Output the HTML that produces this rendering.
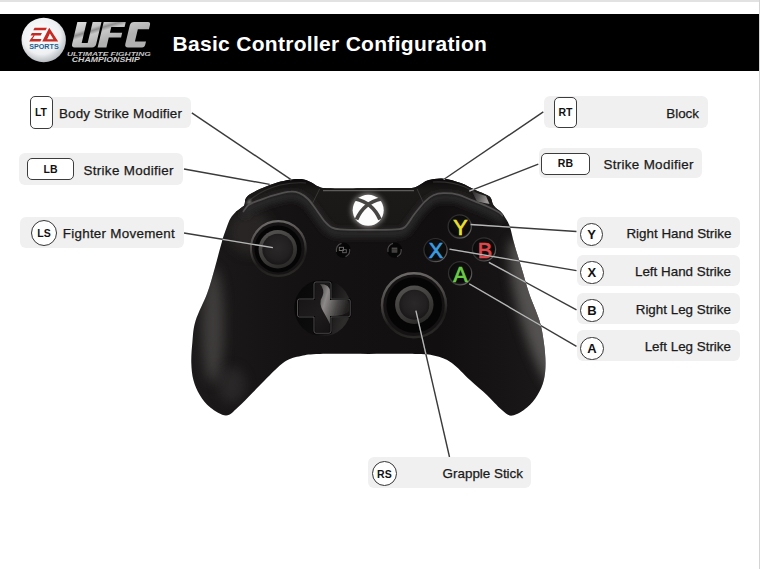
<!DOCTYPE html>
<html><head><meta charset="utf-8"><style>
*{margin:0;padding:0;box-sizing:border-box}
html,body{width:760px;height:569px;overflow:hidden;background:#fff;font-family:"Liberation Sans",sans-serif}
#topline{position:absolute;left:0;top:0;width:760px;height:2px;background:#e2e2e2}
#rightline{position:absolute;left:759px;top:0;width:1px;height:569px;background:#d4d4d4}
#header{position:absolute;left:0;top:14px;width:759px;height:57px;background:#000}
#title{position:absolute;left:172.5px;top:30.5px;letter-spacing:0.3px;color:#fff;font-weight:bold;font-size:21px;line-height:26px;white-space:nowrap}
.box{position:absolute;background:#f0f0f0;border-radius:6px;height:31px}
.lbl{position:absolute;font-size:13.4px;line-height:16px;color:#1a1a1a;white-space:nowrap;-webkit-text-stroke:0.25px #1a1a1a}
.btn{position:absolute;background:#fff;border:1.8px solid #3c3c3c;border-radius:5px;padding-bottom:1px;font-weight:bold;font-size:10.5px;color:#111;display:flex;align-items:center;justify-content:center}
.circ{position:absolute;background:#fff;border:1.7px solid #353535;border-radius:50%;font-weight:bold;font-size:11px;color:#111;display:flex;align-items:center;justify-content:center}
svg{position:absolute;left:0;top:0}
</style></head><body>
<div id="topline"></div>
<div id="header"></div>
<div id="rightline"></div>
<svg width="760" height="569" viewBox="0 0 760 569">
<defs>
 <radialGradient id="eaball" cx="45%" cy="40%" r="60%"><stop offset="0" stop-color="#ffffff"/><stop offset="0.7" stop-color="#eef0f2"/><stop offset="1" stop-color="#b8bcc0"/></radialGradient>
 <linearGradient id="silver" gradientUnits="userSpaceOnUse" x1="70" y1="20" x2="80" y2="50"><stop offset="0" stop-color="#e6e6e6"/><stop offset="0.4" stop-color="#c4c4c4"/><stop offset="0.5" stop-color="#8e8e8e"/><stop offset="0.62" stop-color="#c8c8c8"/><stop offset="1" stop-color="#b0b0b0"/></linearGradient>
 <linearGradient id="bodyg" x1="0" y1="0" x2="1" y2="0"><stop offset="0" stop-color="#1c1a1a"/><stop offset="0.3" stop-color="#141212"/><stop offset="0.7" stop-color="#110f0f"/><stop offset="1" stop-color="#1a1818"/></linearGradient>
 <radialGradient id="glow" cx="50%" cy="50%" r="50%"><stop offset="0.75" stop-color="#ffffff"/><stop offset="0.9" stop-color="#e8e8e8"/><stop offset="1" stop-color="#666" stop-opacity="0"/></radialGradient>
 <filter id="blur6" x="-50%" y="-50%" width="200%" height="200%"><feGaussianBlur stdDeviation="6"/></filter>
 <filter id="blur2" x="-50%" y="-50%" width="200%" height="200%"><feGaussianBlur stdDeviation="2.5"/></filter>
 <linearGradient id="ringg" x1="0.3" y1="0" x2="0.5" y2="1"><stop offset="0" stop-color="#6e6a6a"/><stop offset="0.4" stop-color="#4a4646"/><stop offset="0.75" stop-color="#1e1b1b"/><stop offset="1" stop-color="#2a2727"/></linearGradient>
 <linearGradient id="rimg" x1="0.2" y1="0" x2="0.7" y2="1"><stop offset="0" stop-color="#555252"/><stop offset="0.6" stop-color="#3c3939"/><stop offset="1" stop-color="#2a2727"/></linearGradient>
 <radialGradient id="capg" cx="50%" cy="45%" r="55%"><stop offset="0" stop-color="#2a2828"/><stop offset="0.7" stop-color="#222020"/><stop offset="1" stop-color="#181616"/></radialGradient>
 <filter id="blur3" x="-20%" y="-50%" width="140%" height="200%"><feGaussianBlur stdDeviation="3"/></filter>
 <filter id="blur1" x="-50%" y="-50%" width="200%" height="200%"><feGaussianBlur stdDeviation="1"/></filter>
 <linearGradient id="dpadg" x1="0" y1="0" x2="1" y2="1"><stop offset="0" stop-color="#141212"/><stop offset="0.5" stop-color="#1e1c1c"/><stop offset="1" stop-color="#0e0c0c"/></linearGradient>
 <radialGradient id="btng" cx="50%" cy="40%" r="60%"><stop offset="0" stop-color="#141212"/><stop offset="0.8" stop-color="#0a0909"/><stop offset="1" stop-color="#2a2828"/></radialGradient>
 <linearGradient id="btnrim" x1="0" y1="0" x2="1" y2="1"><stop offset="0" stop-color="#2a2828"/><stop offset="0.6" stop-color="#3a3838"/><stop offset="1" stop-color="#7a7777"/></linearGradient>
 <filter id="blur5" x="-50%" y="-50%" width="200%" height="200%"><feGaussianBlur stdDeviation="5"/></filter>
 <linearGradient id="rgripfade" gradientUnits="userSpaceOnUse" x1="0" y1="215" x2="0" y2="410"><stop offset="0" stop-color="#fff" stop-opacity="0"/><stop offset="0.2" stop-color="#fff" stop-opacity="1"/><stop offset="0.7" stop-color="#fff" stop-opacity="1"/><stop offset="1" stop-color="#fff" stop-opacity="0"/></linearGradient>
 <mask id="rgripmask" maskUnits="userSpaceOnUse" x="0" y="0" width="760" height="569"><path d="M500,215 L570,215 L570,410 L535,410 L515,330 Z" fill="url(#rgripfade)"/></mask>
 <linearGradient id="topband" gradientUnits="userSpaceOnUse" x1="0" y1="178" x2="0" y2="230"><stop offset="0" stop-color="#0a0808"/><stop offset="0.25" stop-color="#1c1919"/><stop offset="1" stop-color="#1a1717"/></linearGradient>
 <linearGradient id="rbhl" x1="0" y1="0" x2="1" y2="0.3"><stop offset="0" stop-color="#2a2828"/><stop offset="0.5" stop-color="#5a5757"/><stop offset="1" stop-color="#9a9696"/></linearGradient>
 <filter id="blur05" x="-50%" y="-50%" width="200%" height="200%"><feGaussianBlur stdDeviation="0.6"/></filter>
 <linearGradient id="dpadbase" x1="0" y1="0" x2="1" y2="0.3"><stop offset="0" stop-color="#080707"/><stop offset="0.6" stop-color="#0e0d0d"/><stop offset="1" stop-color="#2e2b2b"/></linearGradient>
 <linearGradient id="swoosh" x1="0" y1="0" x2="1" y2="0.4"><stop offset="0" stop-color="#4a4747"/><stop offset="0.3" stop-color="#9a9696"/><stop offset="0.7" stop-color="#4e4b4b"/><stop offset="1" stop-color="#262323"/></linearGradient>
</defs>
<!-- EA SPORTS ball -->
<circle cx="43.7" cy="40" r="22.2" fill="url(#eaball)"/>
<g fill="#c62a22">
 <polygon points="34.6,27.7 46.9,27.7 45.6,30.2 33.3,30.2"/>
 <polygon points="31.9,33.0 41.9,33.0 40.7,35.6 34.6,35.6 32.5,38.9 41.5,38.9 40.3,41.5 29.2,41.5 30.6,38.9 30.7,38.9 33.5,35.6 30.6,35.6"/>
 <path d="M49.2,27.7 L58.2,41.5 L42.2,41.5 Z M49.9,33.6 L47.2,39.2 L53.4,39.2 Z" fill-rule="evenodd"/>
</g>
<text x="29.2" y="48.8" font-family="Liberation Sans" font-weight="bold" font-size="7.4" fill="#235f90" textLength="29.5" lengthAdjust="spacingAndGlyphs">SPORTS</text>
<!-- UFC -->
<g transform="translate(0,47.4) skewX(-13.5) translate(0,-47.4)" fill="url(#silver)">
 <path d="M71.3,22.1 H80.6 V43 H86.6 V22.1 H95.4 V44 Q95.4,47.4 92,47.4 H74.7 Q71.3,47.4 71.3,44 Z"/>
 <path d="M97.6,22.1 H119.7 V27 H106.4 V32.8 H118.7 V37.5 H106.4 V47.4 H97.6 Z"/>
 <path d="M128,22.1 H142 Q144.6,22.1 144.6,25 V29.3 H133.5 V41.5 H144.6 V44.5 Q144.6,47.4 142,47.4 H128 Q124.5,47.4 124.5,44 V25.5 Q124.5,22.1 128,22.1 Z"/>
</g>
<text x="67" y="56.4" font-family="Liberation Sans" font-weight="bold" font-style="italic" font-size="5.4" fill="#c4c4c4" textLength="83.8" lengthAdjust="spacingAndGlyphs">ULTIMATE FIGHTING</text>
<text x="71.8" y="62.4" font-family="Liberation Sans" font-weight="bold" font-style="italic" font-size="7.2" fill="#d0d0d0" textLength="68" lengthAdjust="spacingAndGlyphs">CHAMPIONSHIP</text>

<!-- controller -->
<path d="M368.5,188.3 C378.5,188.2 392.3,188.2 400.0,188.1 C407.7,187.9 410.8,188.2 414.5,187.4 C418.2,186.6 419.6,184.7 422.0,183.5 C424.4,182.3 425.4,180.8 429.0,180.0 C432.6,179.2 438.1,178.2 443.4,178.7 C448.7,179.2 455.5,181.1 460.8,183.0 C466.1,184.9 470.8,187.9 475.2,189.9 C479.6,191.9 484.9,193.8 487.5,195.2 C490.1,196.6 490.1,197.0 491.0,198.5 C491.9,200.0 492.1,202.5 492.8,204.0 C493.5,205.5 494.1,206.2 495.4,207.5 C496.7,208.8 498.9,209.9 500.7,211.8 C502.5,213.7 504.4,216.4 506.0,218.9 C507.6,221.4 508.6,222.8 510.0,227.0 C511.4,231.2 512.3,237.1 514.3,244.0 C516.2,250.9 519.2,260.3 521.7,268.5 C524.2,276.7 526.0,284.2 529.0,293.0 C532.0,301.8 537.1,312.8 539.6,321.0 C542.1,329.2 542.8,335.1 543.8,342.2 C544.8,349.2 545.5,357.0 545.5,363.3 C545.5,369.6 545.1,374.9 543.8,380.2 C542.5,385.5 540.3,390.4 537.5,395.0 C534.7,399.6 531.2,404.2 527.0,407.6 C522.8,411.0 516.4,415.2 512.2,415.6 C508.0,416.0 505.8,413.1 501.6,409.7 C497.4,406.3 492.2,399.9 486.9,395.0 C481.6,390.1 475.9,385.4 470.0,380.0 C464.1,374.6 457.4,366.8 451.5,362.7 C445.6,358.6 440.7,357.1 434.6,355.7 C428.5,354.2 426.0,354.3 415.0,354.0 C404.0,353.7 384.3,354.0 368.5,354.0 C352.7,354.0 331.2,353.7 320.0,354.0 C308.8,354.3 306.8,354.7 301.0,356.0 C295.2,357.3 291.0,357.6 285.0,361.6 C279.0,365.6 270.4,374.8 265.0,380.0 C259.6,385.2 257.1,388.2 252.5,392.8 C247.9,397.4 242.1,403.8 237.7,407.6 C233.3,411.4 230.6,415.6 226.0,415.6 C221.4,415.6 214.7,411.0 210.3,407.6 C205.9,404.2 202.6,399.6 199.8,395.0 C197.0,390.4 194.8,385.3 193.4,380.0 C192.0,374.7 191.5,369.3 191.3,363.0 C191.1,356.7 191.7,349.0 192.4,342.0 C193.1,335.0 193.0,329.2 195.5,321.0 C198.0,312.8 204.1,301.8 207.3,293.0 C210.5,284.2 212.2,277.1 214.7,268.5 C217.1,259.9 219.9,248.4 222.0,241.4 C224.1,234.4 225.7,230.3 227.0,226.6 C228.3,222.9 228.8,221.4 230.0,219.2 C231.2,217.0 232.4,215.3 234.3,213.4 C236.2,211.5 239.9,209.1 241.6,207.6 C243.3,206.1 243.8,206.3 244.5,204.7 C245.2,203.1 244.7,200.1 245.9,198.2 C247.1,196.3 248.3,195.1 251.7,193.2 C255.1,191.3 261.4,188.5 266.2,186.6 C271.0,184.7 276.4,182.8 280.7,181.6 C285.0,180.4 288.3,179.8 292.2,179.4 C296.1,179.0 300.7,178.9 303.8,179.4 C306.9,179.9 308.6,181.1 311.0,182.3 C313.4,183.5 316.1,185.6 318.3,186.6 C320.5,187.6 320.4,187.8 324.0,188.1 C327.6,188.4 332.6,188.5 340.0,188.5 C347.4,188.5 358.5,188.4 368.5,188.3Z" fill="url(#bodyg)"/>
<clipPath id="bodyclip"><path d="M368.5,188.3 C378.5,188.2 392.3,188.2 400.0,188.1 C407.7,187.9 410.8,188.2 414.5,187.4 C418.2,186.6 419.6,184.7 422.0,183.5 C424.4,182.3 425.4,180.8 429.0,180.0 C432.6,179.2 438.1,178.2 443.4,178.7 C448.7,179.2 455.5,181.1 460.8,183.0 C466.1,184.9 470.8,187.9 475.2,189.9 C479.6,191.9 484.9,193.8 487.5,195.2 C490.1,196.6 490.1,197.0 491.0,198.5 C491.9,200.0 492.1,202.5 492.8,204.0 C493.5,205.5 494.1,206.2 495.4,207.5 C496.7,208.8 498.9,209.9 500.7,211.8 C502.5,213.7 504.4,216.4 506.0,218.9 C507.6,221.4 508.6,222.8 510.0,227.0 C511.4,231.2 512.3,237.1 514.3,244.0 C516.2,250.9 519.2,260.3 521.7,268.5 C524.2,276.7 526.0,284.2 529.0,293.0 C532.0,301.8 537.1,312.8 539.6,321.0 C542.1,329.2 542.8,335.1 543.8,342.2 C544.8,349.2 545.5,357.0 545.5,363.3 C545.5,369.6 545.1,374.9 543.8,380.2 C542.5,385.5 540.3,390.4 537.5,395.0 C534.7,399.6 531.2,404.2 527.0,407.6 C522.8,411.0 516.4,415.2 512.2,415.6 C508.0,416.0 505.8,413.1 501.6,409.7 C497.4,406.3 492.2,399.9 486.9,395.0 C481.6,390.1 475.9,385.4 470.0,380.0 C464.1,374.6 457.4,366.8 451.5,362.7 C445.6,358.6 440.7,357.1 434.6,355.7 C428.5,354.2 426.0,354.3 415.0,354.0 C404.0,353.7 384.3,354.0 368.5,354.0 C352.7,354.0 331.2,353.7 320.0,354.0 C308.8,354.3 306.8,354.7 301.0,356.0 C295.2,357.3 291.0,357.6 285.0,361.6 C279.0,365.6 270.4,374.8 265.0,380.0 C259.6,385.2 257.1,388.2 252.5,392.8 C247.9,397.4 242.1,403.8 237.7,407.6 C233.3,411.4 230.6,415.6 226.0,415.6 C221.4,415.6 214.7,411.0 210.3,407.6 C205.9,404.2 202.6,399.6 199.8,395.0 C197.0,390.4 194.8,385.3 193.4,380.0 C192.0,374.7 191.5,369.3 191.3,363.0 C191.1,356.7 191.7,349.0 192.4,342.0 C193.1,335.0 193.0,329.2 195.5,321.0 C198.0,312.8 204.1,301.8 207.3,293.0 C210.5,284.2 212.2,277.1 214.7,268.5 C217.1,259.9 219.9,248.4 222.0,241.4 C224.1,234.4 225.7,230.3 227.0,226.6 C228.3,222.9 228.8,221.4 230.0,219.2 C231.2,217.0 232.4,215.3 234.3,213.4 C236.2,211.5 239.9,209.1 241.6,207.6 C243.3,206.1 243.8,206.3 244.5,204.7 C245.2,203.1 244.7,200.1 245.9,198.2 C247.1,196.3 248.3,195.1 251.7,193.2 C255.1,191.3 261.4,188.5 266.2,186.6 C271.0,184.7 276.4,182.8 280.7,181.6 C285.0,180.4 288.3,179.8 292.2,179.4 C296.1,179.0 300.7,178.9 303.8,179.4 C306.9,179.9 308.6,181.1 311.0,182.3 C313.4,183.5 316.1,185.6 318.3,186.6 C320.5,187.6 320.4,187.8 324.0,188.1 C327.6,188.4 332.6,188.5 340.0,188.5 C347.4,188.5 358.5,188.4 368.5,188.3Z"/></clipPath>

<g clip-path="url(#bodyclip)">
 <!-- grip highlights -->
 <ellipse cx="213" cy="325" rx="11" ry="58" fill="#666262" opacity="0.5" filter="url(#blur6)"/>
 <ellipse cx="232" cy="385" rx="14" ry="18" fill="#4a4646" opacity="0.35" filter="url(#blur6)"/>
 <ellipse cx="536" cy="315" rx="16" ry="80" transform="rotate(-16 536 315)" fill="#6e6a6a" opacity="0.7" filter="url(#blur6)"/>
 <ellipse cx="250" cy="232" rx="22" ry="22" fill="#3a3636" opacity="0.5" filter="url(#blur6)"/>
 <!-- bumpers / top band -->
 <path d="M230,170 L510,170 L510,216  Z" fill="none"/>
 <path d="M243.0,212.0 C244.0,210.8 246.1,206.6 248.8,204.7 C251.5,202.8 254.9,202.0 259.0,200.4 C263.1,198.8 268.1,196.8 273.4,195.3 C278.7,193.9 286.4,192.0 290.8,191.7 C295.2,191.3 296.6,192.0 299.5,193.2 C302.4,194.4 305.1,196.1 308.0,199.0 C310.9,201.9 314.1,206.9 316.8,210.5 C319.5,214.1 321.6,217.8 324.0,220.6 C326.4,223.4 328.6,225.8 331.3,227.2 C334.0,228.6 333.8,228.9 340.0,229.3 C346.2,229.7 359.2,229.8 368.5,229.8 C377.8,229.8 389.9,229.8 396.0,229.3 C402.1,228.8 401.9,229.6 405.0,227.0 C408.1,224.4 411.2,218.2 414.5,214.0 C417.8,209.8 421.5,204.9 424.6,201.8 C427.7,198.7 430.2,196.7 433.3,195.3 C436.4,193.9 439.3,193.3 443.4,193.2 C447.5,193.1 453.1,193.4 457.9,194.6 C462.7,195.8 467.6,198.5 472.4,200.4 C477.2,202.3 482.5,204.3 486.8,206.2 C491.1,208.1 495.7,210.4 498.4,212.0 C501.1,213.6 502.2,215.3 503.0,216.0 L540,216 L540,160 L200,160 L200,212 Z" fill="url(#topband)"/>
 <path d="M243.0,212.0 C244.0,210.8 246.1,206.6 248.8,204.7 C251.5,202.8 254.9,202.0 259.0,200.4 C263.1,198.8 268.1,196.8 273.4,195.3 C278.7,193.9 286.4,192.0 290.8,191.7 C295.2,191.3 296.6,192.0 299.5,193.2 C302.4,194.4 305.1,196.1 308.0,199.0 C310.9,201.9 314.1,206.9 316.8,210.5 C319.5,214.1 321.6,217.8 324.0,220.6 C326.4,223.4 328.6,225.8 331.3,227.2 C334.0,228.6 333.8,228.9 340.0,229.3 C346.2,229.7 359.2,229.8 368.5,229.8 C377.8,229.8 389.9,229.8 396.0,229.3 C402.1,228.8 401.9,229.6 405.0,227.0 C408.1,224.4 411.2,218.2 414.5,214.0 C417.8,209.8 421.5,204.9 424.6,201.8 C427.7,198.7 430.2,196.7 433.3,195.3 C436.4,193.9 439.3,193.3 443.4,193.2 C447.5,193.1 453.1,193.4 457.9,194.6 C462.7,195.8 467.6,198.5 472.4,200.4 C477.2,202.3 482.5,204.3 486.8,206.2 C491.1,208.1 495.7,210.4 498.4,212.0 C501.1,213.6 502.2,215.3 503.0,216.0" fill="none" stroke="#2c2929" stroke-width="8" filter="url(#blur3)" transform="translate(0,4)"/>
 <!-- bumper highlights -->
 <path d="M250,200 Q262,190 280,185 Q295,182 306,183" fill="none" stroke="#3a3737" stroke-width="1.2" opacity="0.8"/>
 <path d="M433,182 Q450,181 465,187 Q478,193 486,201" fill="none" stroke="#3a3737" stroke-width="1.2" opacity="0.8"/>
 <path d="M472,191.5 L486,196 L489.5,204 L477,201.5 Z" fill="url(#rbhl)" filter="url(#blur05)"/>
 <path d="M246,204 L250,198 L252,204 Z" fill="#6a6666" filter="url(#blur1)"/>
 <line x1="319.7" y1="188.8" x2="312.5" y2="203.3" stroke="#3a3737" stroke-width="1"/>
 <line x1="417" y1="188.8" x2="423.5" y2="203" stroke="#3a3737" stroke-width="1"/>
 <line x1="323" y1="190.6" x2="414" y2="190.6" stroke="#5e5b5b" stroke-width="1.3"/>
 <path d="M243.0,212.0 C244.0,210.8 246.1,206.6 248.8,204.7 C251.5,202.8 254.9,202.0 259.0,200.4 C263.1,198.8 268.1,196.8 273.4,195.3 C278.7,193.9 286.4,192.0 290.8,191.7 C295.2,191.3 296.6,192.0 299.5,193.2 C302.4,194.4 305.1,196.1 308.0,199.0 C310.9,201.9 314.1,206.9 316.8,210.5 C319.5,214.1 321.6,217.8 324.0,220.6 C326.4,223.4 328.6,225.8 331.3,227.2 C334.0,228.6 333.8,228.9 340.0,229.3 C346.2,229.7 359.2,229.8 368.5,229.8 C377.8,229.8 389.9,229.8 396.0,229.3 C402.1,228.8 401.9,229.6 405.0,227.0 C408.1,224.4 411.2,218.2 414.5,214.0 C417.8,209.8 421.5,204.9 424.6,201.8 C427.7,198.7 430.2,196.7 433.3,195.3 C436.4,193.9 439.3,193.3 443.4,193.2 C447.5,193.1 453.1,193.4 457.9,194.6 C462.7,195.8 467.6,198.5 472.4,200.4 C477.2,202.3 482.5,204.3 486.8,206.2 C491.1,208.1 495.7,210.4 498.4,212.0 C501.1,213.6 502.2,215.3 503.0,216.0" fill="none" stroke="#524f4f" stroke-width="1.8"/>
</g>
<!-- xbox logo -->
<circle cx="368.2" cy="210.3" r="17" fill="#9a9696" filter="url(#blur2)" opacity="0.8"/>
<circle cx="368.2" cy="210.3" r="15.5" fill="#fcfcfc"/>
<path d="M355.5,199 Q372.5,202.5 380,219.5" fill="none" stroke="#474444" stroke-width="3.8"/>
<path d="M381,199 Q364,202.5 356.5,219.5" fill="none" stroke="#474444" stroke-width="3.8"/>
<!-- view / menu -->
<g>
 <circle cx="343.2" cy="250.1" r="7.6" fill="#070606"/>
 <path d="M336.5,252 A7,7 0 0 1 341.5,243.3" fill="none" stroke="#4a4747" stroke-width="1.2"/>
 <path d="M349.6,249 A7,7 0 0 1 345.5,256.6" fill="none" stroke="#4a4747" stroke-width="1.2"/>
 <rect x="339.3" y="247.3" width="4.2" height="3.2" fill="none" stroke="#777373" stroke-width="0.9"/>
 <rect x="342.7" y="249.7" width="3.6" height="3" fill="none" stroke="#666262" stroke-width="0.9"/>
 <circle cx="394.7" cy="250.1" r="7.6" fill="#070606"/>
 <path d="M388,252 A7,7 0 0 1 393,243.3" fill="none" stroke="#4a4747" stroke-width="1.2"/>
 <path d="M401.1,249 A7,7 0 0 1 397,256.6" fill="none" stroke="#4a4747" stroke-width="1.2"/>
 <rect x="391.7" y="247.6" width="5.6" height="5" fill="#555151"/>
 <line x1="391.7" y1="249.3" x2="397.3" y2="249.3" stroke="#1a1818" stroke-width="0.6"/>
 <line x1="391.7" y1="251" x2="397.3" y2="251" stroke="#1a1818" stroke-width="0.6"/>
</g>
<!-- left stick -->
<circle cx="278.3" cy="248.5" r="28.6" fill="#151313"/>
<circle cx="278.3" cy="248.5" r="27.4" fill="none" stroke="url(#ringg)" stroke-width="2.2"/>
<circle cx="278" cy="249" r="23.5" fill="#060505"/>
<circle cx="277.8" cy="249.3" r="19.2" fill="url(#rimg)"/>
<circle cx="277.8" cy="249.3" r="15.5" fill="url(#capg)"/>
<!-- right stick -->
<circle cx="414" cy="305.3" r="33.5" fill="#141212"/>
<circle cx="414" cy="305.3" r="32" fill="none" stroke="url(#ringg)" stroke-width="2.4"/>
<circle cx="414.2" cy="305" r="27.8" fill="#060505"/>
<circle cx="414.3" cy="304.7" r="19.2" fill="url(#rimg)"/>
<circle cx="414.3" cy="304.7" r="15" fill="url(#capg)"/>
<!-- dpad -->
<circle cx="322.5" cy="308" r="28.3" fill="url(#dpadbase)"/>
<path d="M316,282 Q314,282 314,284 L314,299 L299.5,299 Q297.5,299 297.5,301 L297.5,315 Q297.5,317 299.5,317 L314,317 L314,331 Q314,333.2 316,333.2 L329,333.2 Q331,333.2 331,331 L331,317 L348,317 Q350.2,317 350.2,315 L350.2,301 Q350.2,299 348,299 L331,299 L331,284 Q331,282 329,282 Z" fill="url(#dpadg)" stroke="#050404" stroke-width="2.2"/>
<path d="M316,282 Q314,282 314,284 L314,299 L299.5,299 Q297.5,299 297.5,301 L297.5,315 Q297.5,317 299.5,317 L314,317 L314,331 Q314,333.2 316,333.2 L329,333.2 Q331,333.2 331,331 L331,317 L348,317 Q350.2,317 350.2,315 L350.2,301 Q350.2,299 348,299 L331,299 L331,284 Q331,282 329,282 Z" fill="none" stroke="#5a5757" stroke-width="0.9"/>
<path d="M320,284 Q330,284 330,292 L330,300 L347,300 Q349,301 349,305 L349,311 Q346,316 330,316 L330,324 Q327,318 323.5,312 Q318,303 322.5,296 Q325,290 320,284 Z" fill="url(#swoosh)" opacity="0.9" filter="url(#blur05)"/>
<!-- ABXY -->
<g font-family="Liberation Sans" font-size="21.5" text-anchor="middle" stroke-width="0.7">
 <circle cx="459.7" cy="226.5" r="11.6" fill="url(#btng)" stroke="url(#btnrim)" stroke-width="1.2"/>
 <text x="460.4" y="234.6" fill="#ece030" stroke="#ece030">Y</text>
 <circle cx="435.5" cy="250.1" r="11.6" fill="url(#btng)" stroke="url(#btnrim)" stroke-width="1.2"/>
 <text x="435.8" y="257.8" fill="#3a9ce0" stroke="#3a9ce0">X</text>
 <circle cx="484" cy="249.4" r="11.6" fill="url(#btng)" stroke="url(#btnrim)" stroke-width="1.2"/>
 <text x="484.8" y="257.8" fill="#e2464a" stroke="#e2464a">B</text>
 <circle cx="460.1" cy="273.3" r="11.6" fill="url(#btng)" stroke="url(#btnrim)" stroke-width="1.2"/>
 <text x="460.4" y="282.2" fill="#6acc46" stroke="#6acc46">A</text>
</g>

<line x1="191.8" y1="112.8" x2="291.4" y2="179.9" stroke="#3a3a3a" stroke-width="1.4" />
<line x1="184" y1="169" x2="269.7" y2="184.4" stroke="#3a3a3a" stroke-width="1.4" />
<line x1="184" y1="233" x2="272.9" y2="247.6" stroke="#3a3a3a" stroke-width="1.4" />
<line x1="543.3" y1="111.8" x2="443.7" y2="179.5" stroke="#3a3a3a" stroke-width="1.4" />
<line x1="538.3" y1="164.1" x2="469.3" y2="191.1" stroke="#3a3a3a" stroke-width="1.4" />
<line x1="470.6" y1="224.5" x2="576.5" y2="231.5" stroke="#3a3a3a" stroke-width="1.4" />
<line x1="449.5" y1="249.2" x2="576.5" y2="270.6" stroke="#3a3a3a" stroke-width="1.4" />
<line x1="488.9" y1="262.4" x2="576.5" y2="309.9" stroke="#3a3a3a" stroke-width="1.4" />
<line x1="469.2" y1="283.8" x2="576.5" y2="346.4" stroke="#3a3a3a" stroke-width="1.4" />
<line x1="415.9" y1="310.6" x2="449.5" y2="457" stroke="#3a3a3a" stroke-width="1.4" />
<g clip-path="url(#bodyclip)"><line x1="191.8" y1="112.8" x2="291.4" y2="179.9" stroke="#b8b8b8" stroke-width="1.3" />
<line x1="184" y1="169" x2="269.7" y2="184.4" stroke="#b8b8b8" stroke-width="1.3" />
<line x1="184" y1="233" x2="272.9" y2="247.6" stroke="#b8b8b8" stroke-width="1.3" />
<line x1="543.3" y1="111.8" x2="443.7" y2="179.5" stroke="#b8b8b8" stroke-width="1.3" />
<line x1="538.3" y1="164.1" x2="469.3" y2="191.1" stroke="#b8b8b8" stroke-width="1.3" />
<line x1="470.6" y1="224.5" x2="576.5" y2="231.5" stroke="#b8b8b8" stroke-width="1.3" />
<line x1="449.5" y1="249.2" x2="576.5" y2="270.6" stroke="#b8b8b8" stroke-width="1.3" />
<line x1="488.9" y1="262.4" x2="576.5" y2="309.9" stroke="#b8b8b8" stroke-width="1.3" />
<line x1="469.2" y1="283.8" x2="576.5" y2="346.4" stroke="#b8b8b8" stroke-width="1.3" />
<line x1="415.9" y1="310.6" x2="449.5" y2="457" stroke="#b8b8b8" stroke-width="1.3" /></g>
</svg>
<div id="title">Basic Controller Configuration</div>
<div class="box" style="left:30px;top:97px;width:161.00px;height:30.50px"></div>
<div class="lbl" style="left:59px;top:105.75px;letter-spacing:0.16px">Body Strike Modifier</div>
<div class="btn" style="left:29.5px;top:96px;width:23.00px;height:33.00px;font-size:10.5px">LT</div>
<div class="box" style="left:19px;top:153px;width:163.50px;height:32.00px"></div>
<div class="lbl" style="left:83.5px;top:162.50px;letter-spacing:0.32px">Strike Modifier</div>
<div class="btn" style="left:27px;top:158px;width:47.00px;height:22.00px;font-size:10.5px">LB</div>
<div class="box" style="left:20px;top:216.6px;width:164.00px;height:31.00px"></div>
<div class="lbl" style="left:62.75px;top:225.60px;letter-spacing:0.27px">Fighter Movement</div>
<div class="circ" style="left:31px;top:220px;width:26.00px;height:26.00px;font-size:10.5px">LS</div>
<div class="box" style="left:544px;top:96.2px;width:163.50px;height:31.80px"></div>
<div class="lbl" style="right:61.00px;top:105.60px;letter-spacing:0px">Block</div>
<div class="btn" style="left:554px;top:96.8px;width:23.00px;height:31.60px;font-size:10.5px">RT</div>
<div class="box" style="left:538.8px;top:148.3px;width:163.70px;height:29.50px"></div>
<div class="lbl" style="right:66.18px;top:156.55px;letter-spacing:0.32px">Strike Modifier</div>
<div class="btn" style="left:541px;top:153.2px;width:48.80px;height:21.40px;font-size:10.5px">RB</div>
<div class="box" style="left:576.5px;top:216.5px;width:163.80px;height:31.40px"></div>
<div class="lbl" style="right:28.60px;top:225.70px;letter-spacing:0px">Right Hand Strike</div>
<div class="circ" style="left:579.8px;top:222.8px;width:23.40px;height:23.40px;font-size:13px">Y</div>
<div class="box" style="left:576.5px;top:254.9px;width:163.80px;height:31.30px"></div>
<div class="lbl" style="right:29.00px;top:264.05px;letter-spacing:0px">Left Hand Strike</div>
<div class="circ" style="left:580.2px;top:261px;width:23.40px;height:23.40px;font-size:13px">X</div>
<div class="box" style="left:576.5px;top:292.5px;width:163.80px;height:31.30px"></div>
<div class="lbl" style="right:29.00px;top:301.65px;letter-spacing:0px">Right Leg Strike</div>
<div class="circ" style="left:580.2px;top:299px;width:23.40px;height:23.40px;font-size:13px">B</div>
<div class="box" style="left:576.5px;top:330.2px;width:163.80px;height:31.30px"></div>
<div class="lbl" style="right:29.00px;top:339.35px;letter-spacing:0px">Left Leg Strike</div>
<div class="circ" style="left:580.2px;top:336.8px;width:23.40px;height:23.40px;font-size:13px">A</div>
<div class="box" style="left:367.5px;top:457px;width:163.75px;height:31.00px"></div>
<div class="lbl" style="right:237.00px;top:466.00px;letter-spacing:0px">Grapple Stick</div>
<div class="circ" style="left:371.8px;top:461px;width:25.20px;height:25.20px;font-size:10.5px">RS</div>
</body></html>
